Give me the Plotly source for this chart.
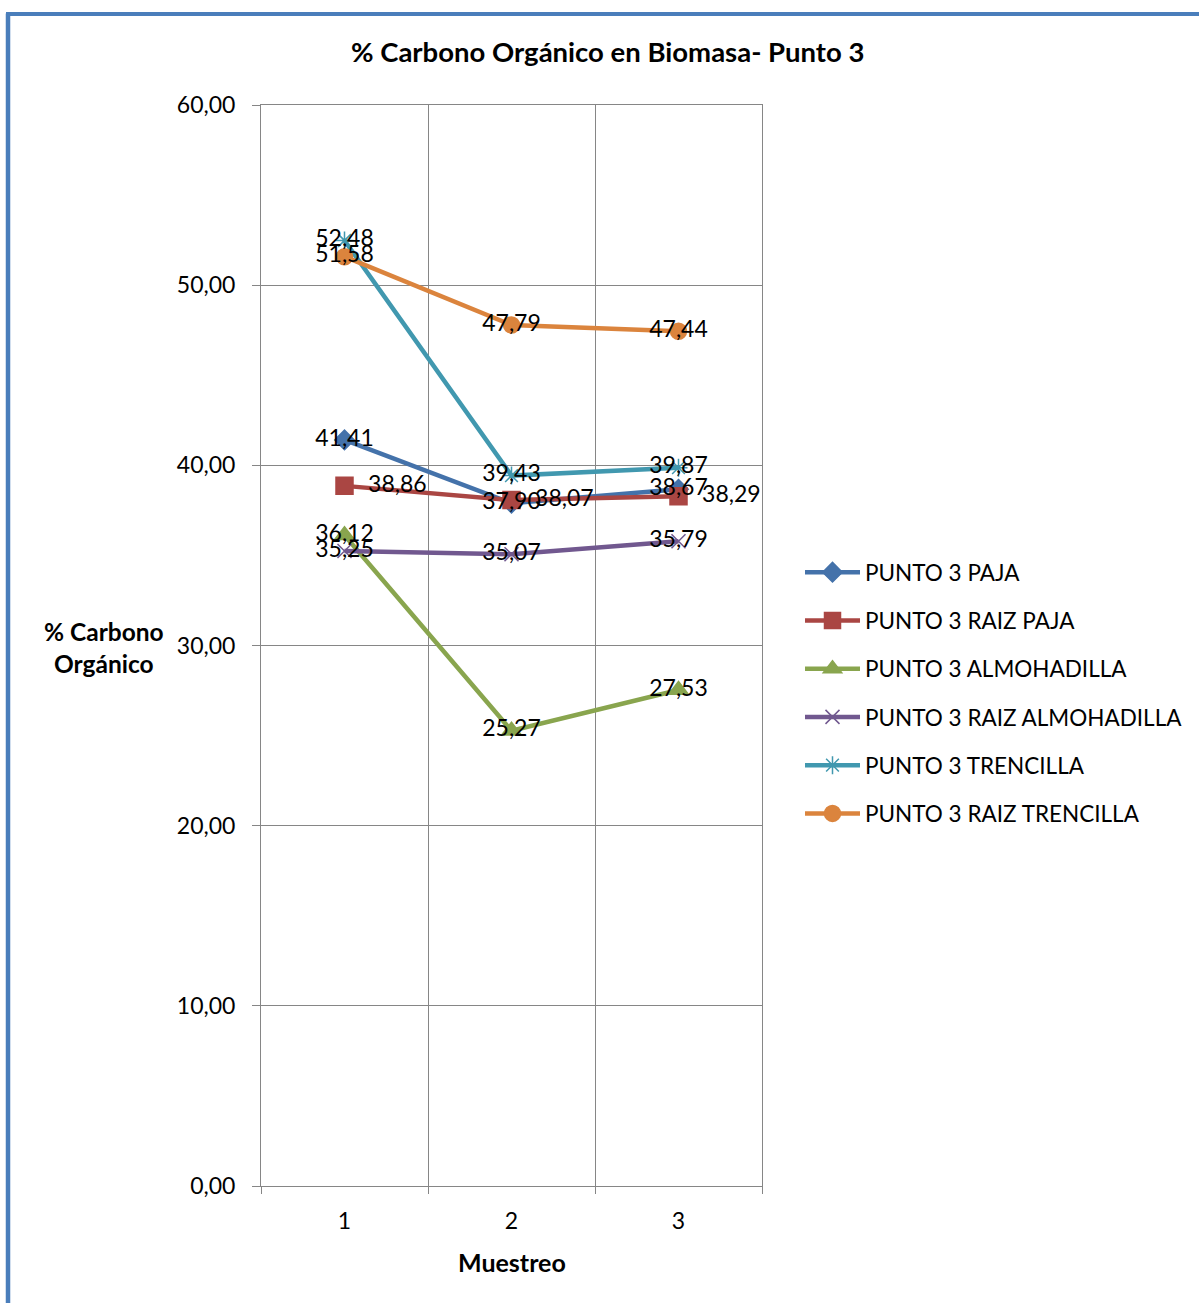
import plotly.graph_objects as go

# Sampling rounds and % organic carbon per biomass type
muestreo = [1, 2, 3]
punto3_paja = [41.41, 37.90, 38.67]
punto3_raiz_paja = [38.86, 38.07, 38.29]
punto3_almohadilla = [36.12, 25.27, 27.53]
punto3_raiz_almohadilla = [35.25, 35.07, 35.79]
punto3_trencilla = [52.48, 39.43, 39.87]
punto3_raiz_trencilla = [51.58, 47.79, 47.44]

y_ticks = [0, 10, 20, 30, 40, 50, 60]

FONT = "Lato, 'Open Sans', sans-serif"
GRID = "#868686"

# Plot area in pixels (figure is 1199 x 1303)
W, H = 1199, 1303
L, R, T, B = 261, 763, 105, 1186


def px_x(px):
    return (px - L) / (R - L)


def px_y(py):
    return (B - py) / (B - T)


def fmt(v):
    return f"{v:.2f}".replace(".", ",")


series = [
    ("PUNTO 3 PAJA", punto3_paja, "#4472AA", "diamond", 15, "middle center", ""),
    ("PUNTO 3 RAIZ PAJA", punto3_raiz_paja, "#AA4643", "square", 17, "middle right", "\u00a0" * 4),
    ("PUNTO 3 ALMOHADILLA", punto3_almohadilla, "#89A54E", "triangle-up", 17, "middle center", ""),
    ("PUNTO 3 RAIZ ALMOHADILLA", punto3_raiz_almohadilla, "#71588F", "x-thin-open", 14, "middle center", ""),
    ("PUNTO 3 TRENCILLA", punto3_trencilla, "#4198AF", "asterisk-open", 15, "middle center", ""),
    ("PUNTO 3 RAIZ TRENCILLA", punto3_raiz_trencilla, "#DB843D", "circle", 16, "middle center", ""),
]

fig = go.Figure()
# Lines and markers
for i, (name, vals, color, symbol, size, tpos, pad) in enumerate(series):
    fig.add_trace(go.Scatter(
        x=muestreo, y=vals, name=name, mode="lines+markers",
        line=dict(color=color, width=4.5),
        marker=dict(symbol=symbol, size=size, color=color,
                    line=dict(color=color, width=1.5)),
        legendgroup=f"g{i}",
    ))

# Data labels drawn above every line
for i, (name, vals, color, symbol, size, tpos, pad) in enumerate(series):
    fig.add_trace(go.Scatter(
        x=muestreo, y=vals, mode="text", showlegend=False,
        text=[pad + fmt(v) for v in vals], textposition=tpos,
        textfont=dict(family=FONT, size=23, color="#000000"),
        hoverinfo="skip", legendgroup=f"g{i}",
    ))

fig.update_layout(
    width=W, height=H,
    margin=dict(l=L, r=W - R, t=T, b=H - B),
    paper_bgcolor="white", plot_bgcolor="white",
    font=dict(family=FONT, size=22, color="#000000"),
    showlegend=True,
    legend=dict(
        x=px_x(800), y=px_y(551), xanchor="left", yanchor="top",
        font=dict(family=FONT, size=22.5, color="#000000"),
        tracegroupgap=16, itemwidth=55, bgcolor="rgba(0,0,0,0)",
    ),
    xaxis=dict(
        range=[0.5, 3.5], tickmode="array", tickvals=muestreo,
        ticktext=[str(m) for m in muestreo], ticks="",
        showgrid=False, zeroline=False,
        showline=True, linecolor=GRID, linewidth=1, mirror=True,
        tickfont=dict(family=FONT, size=23), ticklabelstandoff=14,
        minor=dict(tickmode="array", tickvals=[0.5, 1.5, 2.5, 3.5],
                   ticks="outside", ticklen=7, tickcolor=GRID,
                   showgrid=True, gridcolor=GRID, gridwidth=1),
    ),
    yaxis=dict(
        range=[0, 60], tickmode="array", tickvals=y_ticks,
        ticktext=[fmt(v) for v in y_ticks],
        ticks="outside", ticklen=8, tickcolor=GRID,
        showgrid=True, gridcolor=GRID, gridwidth=1, zeroline=False,
        showline=True, linecolor=GRID, linewidth=1, mirror=True,
        tickfont=dict(family=FONT, size=23), ticklabelstandoff=12,
    ),
)

annotations = [
    dict(text="<b>% Carbono Orgánico en Biomasa- Punto 3</b>",
         x=px_x(608), y=px_y(52), font=dict(size=27.5)),
    dict(text="<b>% Carbono<br>Orgánico</b>",
         x=px_x(104), y=px_y(647), font=dict(size=24.5)),
    dict(text="<b>Muestreo</b>",
         x=px_x(512), y=px_y(1262), font=dict(size=25)),
]
for a in annotations:
    fig.add_annotation(xref="paper", yref="paper", showarrow=False,
                       xanchor="center", yanchor="middle",
                       font_family=FONT, font_color="#000000",
                       **{k: v for k, v in a.items()})

# Chart frame (left and top edges)
frame = "#4A7EBB"
fig.add_shape(type="line", xref="paper", yref="paper",
              x0=px_x(7.5), x1=px_x(7.5), y0=px_y(13.5), y1=px_y(1320),
              line=dict(color=frame, width=4.5), layer="above")
fig.add_shape(type="line", xref="paper", yref="paper",
              x0=px_x(5.5), x1=px_x(1220), y0=px_y(14), y1=px_y(14),
              line=dict(color=frame, width=4), layer="above")

fig.write_html("out.html")
